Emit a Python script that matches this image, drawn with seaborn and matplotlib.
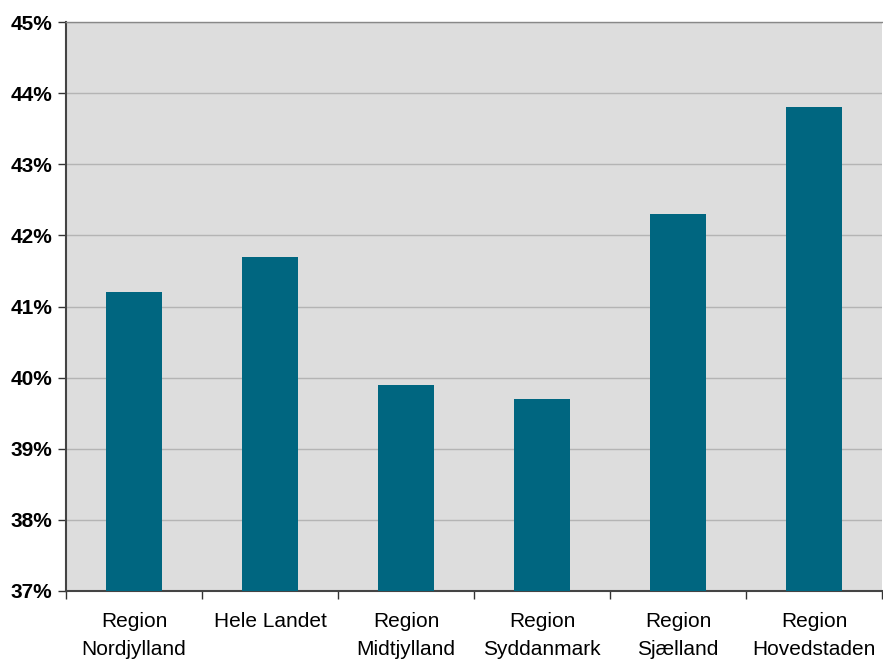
import matplotlib
matplotlib.use("Agg")
import matplotlib.pyplot as plt
import seaborn as sns
import pandas as pd
from matplotlib.ticker import FuncFormatter, FixedLocator

#%% data
regions = ["Region\nNordjylland", "Hele Landet", "Region\nMidtjylland",
           "Region\nSyddanmark", "Region\nSjælland", "Region\nHovedstaden"]
shares = [41.2, 41.7, 39.9, 39.7, 42.3, 43.8]
y_ticks = [37, 38, 39, 40, 41, 42, 43, 44, 45]

df = pd.DataFrame({"Region": regions, "Share": shares})

#%% plot
sns.set_style("white")
plt.rcParams["font.family"] = ["Liberation Sans", "DejaVu Sans"]
plt.rcParams["text.color"] = "black"
plt.rcParams["xtick.color"] = "#333333"
plt.rcParams["ytick.color"] = "#333333"
plt.rcParams["xtick.labelcolor"] = "black"
plt.rcParams["ytick.labelcolor"] = "black"

fig = plt.figure(figsize=(8.83, 6.6), dpi=100)
ax = fig.add_axes([66 / 883, 69 / 660, 816 / 883, 569 / 660])
ax.set_facecolor("#dddddd")

sns.barplot(data=df, x="Region", y="Share", color="#006680", saturation=1,
            width=0.41, edgecolor="none", linewidth=0, ax=ax, zorder=3)

ax.set_ylim(37, 45)
ax.set_xlim(-0.5, len(regions) - 0.5)
ax.set_yticks(y_ticks)
ax.yaxis.set_major_formatter(FuncFormatter(lambda v, _: f"{int(v)}%"))
ax.grid(axis="y", color="#b4b4b4", linewidth=1, zorder=0)
ax.set_axisbelow(True)

ax.tick_params(axis="y", left=True, length=6, width=1, pad=4, labelsize=15)
for lbl in ax.get_yticklabels():
    lbl.set_fontweight("bold")

ax.tick_params(axis="x", which="major", bottom=False, length=0, labelsize=15, pad=15)
ax.xaxis.set_minor_locator(FixedLocator([i - 0.5 for i in range(len(regions) + 1)]))
ax.tick_params(axis="x", which="minor", bottom=True, length=6, width=1)
for lbl in ax.get_xticklabels():
    lbl.set_linespacing(1.6)

ax.set_xlabel("")
ax.set_ylabel("")

for side in ["left", "bottom"]:
    ax.spines[side].set_color("#444444")
    ax.spines[side].set_linewidth(1.5)
ax.spines["top"].set_color("#888888")
ax.spines["top"].set_linewidth(1)
ax.spines["right"].set_visible(False)

fig.savefig("out.png", dpi=100)
